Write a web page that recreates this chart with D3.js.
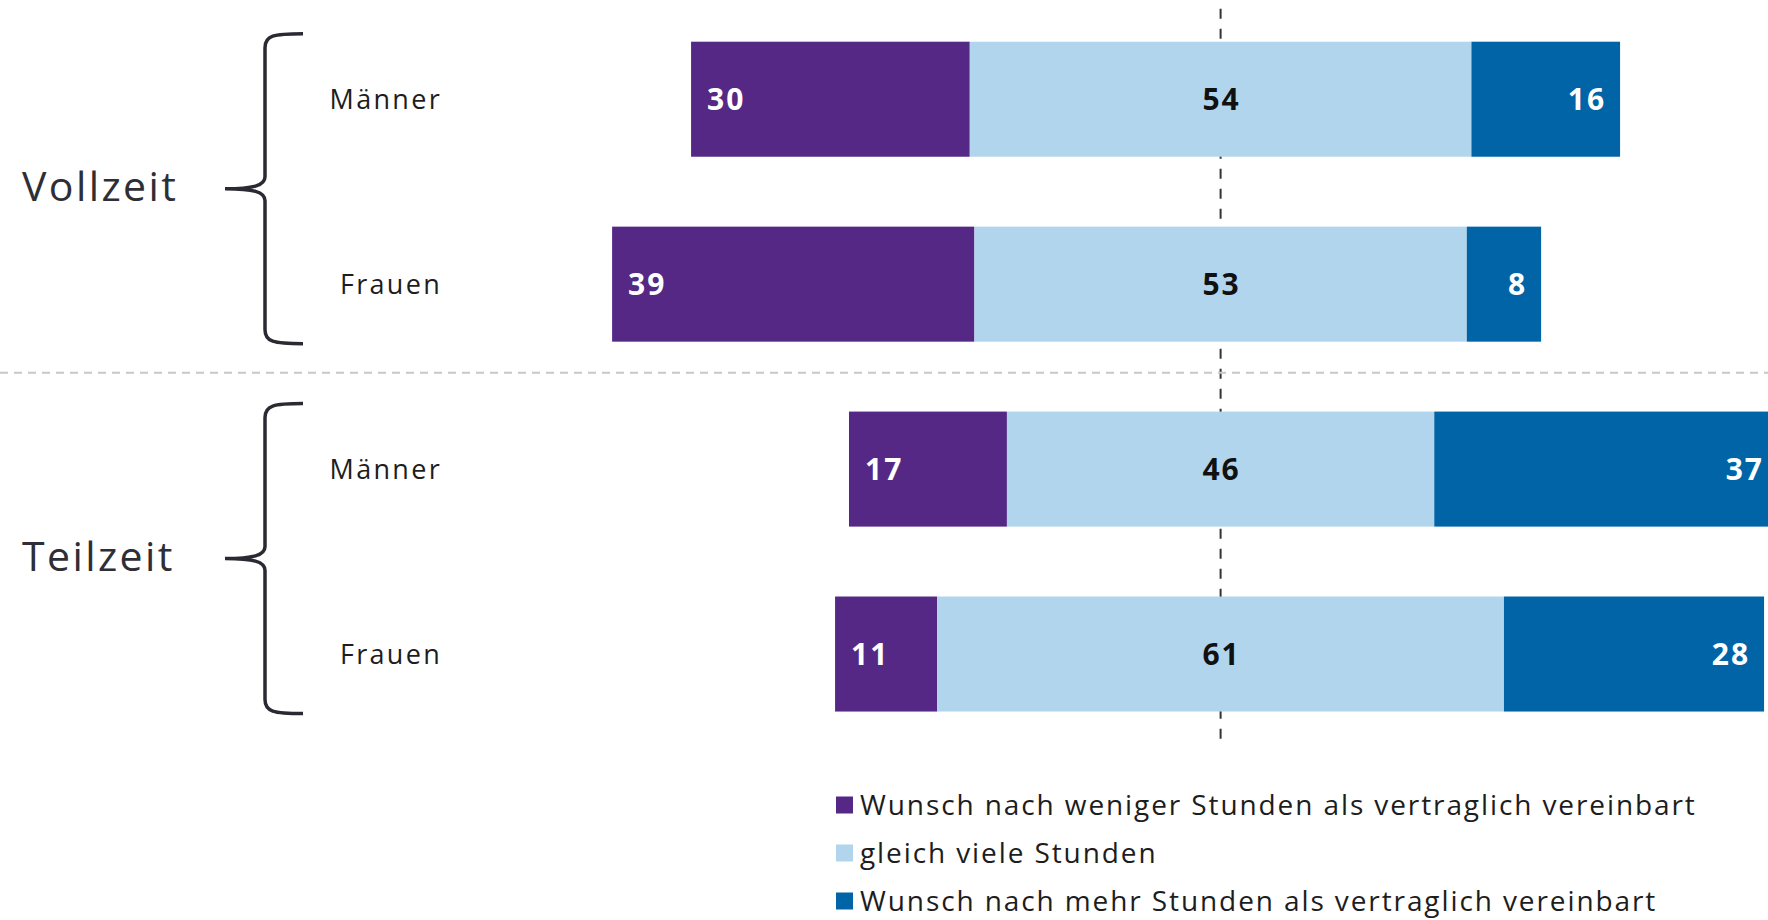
<!DOCTYPE html>
<html>
<head>
<meta charset="utf-8">
<script src="https://cdn.jsdelivr.net/npm/d3@7"></script>
<style>
  body { margin: 0; background: #fff; }
  svg { display: block; font-family: "Open Sans", sans-serif; }
</style>
</head>
<body>
<div id="chart"></div>
<script>
// chart data
var groups = ["Vollzeit", "Teilzeit"];
var rowGroup = ["Vollzeit", "Vollzeit", "Teilzeit", "Teilzeit"];
var rowLabels = ["Männer", "Frauen", "Männer", "Frauen"];
var weniger = [30, 39, 17, 11];
var gleich = [54, 53, 46, 61];
var mehr = [16, 8, 37, 28];
var seriesNames = [
    "Wunsch nach weniger Stunden als vertraglich vereinbart",
    "gleich viele Stunden",
    "Wunsch nach mehr Stunden als vertraglich vereinbart"
];

// svg size
var svgWidth = 1768;
var svgHeight = 920;
var colors = ["#552886", "#b2d5ee", "#0064a7"];

var svg = d3.select("#chart")
    .append("svg")
    .attr("width", svgWidth)
    .attr("height", svgHeight);

// x: 0 sits in the middle of the "gleich viele" segment
var center = 1220.6;
var xscale = d3.scaleLinear()
    .domain([-60, 60])
    .range([center - 557.4, center + 557.4]);

var rows = d3.range(rowLabels.length);
var yscale = d3.scaleBand()
    .domain(rows)
    .range([6.75, 746.5])
    .paddingInner(0.378)
    .paddingOuter(0.189);
var bw = yscale.bandwidth();

// build stacked segments from the arrays
var segs = [];
rows.forEach(function (i) {
    var start = -(weniger[i] + gleich[i] / 2);
    var vals = [weniger[i], gleich[i], mehr[i]];
    vals.forEach(function (v, k) {
        segs.push({ row: i, k: k, v: v, x0: start, x1: start + v });
        start += v;
    });
});

// vertical dashed centre line (behind the bars)
svg.append("line")
    .attr("x1", xscale(0)).attr("x2", xscale(0))
    .attr("y1", yscale.range()[0] + 2)
    .attr("y2", yscale.range()[1] - 4)
    .attr("stroke", "#333")
    .attr("stroke-width", 2)
    .attr("stroke-dasharray", "10,10");

// separator between the two groups
var sepY = (yscale(1) + bw + yscale(2)) / 2 - 4;
svg.append("line")
    .attr("x1", 0).attr("x2", svgWidth)
    .attr("y1", sepY).attr("y2", sepY)
    .attr("stroke", "#c8c8c8")
    .attr("stroke-width", 2)
    .attr("stroke-dasharray", "8,6");

// bars
svg.selectAll("rect.seg")
    .data(segs)
    .enter()
    .append("rect")
    .attr("class", "seg")
    .attr("x", d => xscale(d.x0))
    .attr("y", d => yscale(d.row))
    .attr("width", d => xscale(d.x1) - xscale(d.x0))
    .attr("height", bw)
    .attr("fill", d => colors[d.k]);

// value labels
svg.selectAll("text.val")
    .data(segs)
    .enter()
    .append("text")
    .attr("class", "val")
    .attr("x", function (d) {
        if (d.k == 0) return xscale(d.x0) + 16;
        if (d.k == 2) return xscale(d.x1) - 14;
        return xscale((d.x0 + d.x1) / 2) + 1;
    })
    .attr("y", d => yscale(d.row) + bw / 2)
    .attr("dy", "0.36em")
    .style("text-anchor", d => d.k == 0 ? "start" : (d.k == 2 ? "end" : "middle"))
    .style("font-size", "30px")
    .style("font-weight", "700")
    .style("letter-spacing", "2px")
    .style("fill", d => d.k == 1 ? "#111" : "#fff")
    .text(d => d.v);

// row labels
svg.selectAll("text.row")
    .data(rows)
    .enter()
    .append("text")
    .attr("class", "row")
    .attr("x", 442)
    .attr("y", d => yscale(d) + bw / 2)
    .attr("dy", "0.36em")
    .style("text-anchor", "end")
    .style("font-size", "27px")
    .style("letter-spacing", "2.3px")
    .style("fill", "#1d1d1d")
    .text(d => rowLabels[d]);

// curly braces + group labels
groups.forEach(function (g) {
    var idx = rows.filter(i => rowGroup[i] == g);
    var y0 = yscale(idx[0]) - 8;
    var y1 = yscale(idx[idx.length - 1]) + bw + 2;
    var ym = (y0 + y1) / 2;
    var xs = 265, xt = 303, xp = 225;
    var p = "M" + xt + "," + y0 +
        " C" + (xs + 8) + "," + y0 + " " + xs + "," + (y0 + 2) + " " + xs + "," + (y0 + 14) +
        " L" + xs + "," + (ym - 12) +
        " C" + xs + "," + (ym - 3) + " " + (xs - 12) + "," + ym + " " + xp + "," + ym +
        " C" + (xs - 12) + "," + ym + " " + xs + "," + (ym + 3) + " " + xs + "," + (ym + 12) +
        " L" + xs + "," + (y1 - 14) +
        " C" + xs + "," + (y1 - 2) + " " + (xs + 8) + "," + y1 + " " + xt + "," + y1;
    svg.append("path")
        .attr("d", p)
        .attr("fill", "none")
        .attr("stroke", "#2a2a33")
        .attr("stroke-width", 3.5);

    svg.append("text")
        .attr("x", 22)
        .attr("y", ym - 2)
        .attr("dy", "0.36em")
        .style("font-size", "41px")
        .style("letter-spacing", "2.4px")
        .style("fill", "#2e2e36")
        .text(g);
});

// legend
var legend = svg.selectAll("g.legend")
    .data(seriesNames)
    .enter()
    .append("g")
    .attr("class", "legend")
    .attr("transform", (d, i) => `translate(836, ${805 + i * 48})`);

legend.append("rect")
    .attr("x", 0)
    .attr("y", -8.5)
    .attr("width", 17)
    .attr("height", 17)
    .attr("fill", (d, i) => colors[i]);

legend.append("text")
    .attr("x", 24)
    .attr("y", 0)
    .attr("dy", "0.36em")
    .style("font-size", "28px")
    .style("letter-spacing", "1.9px")
    .style("fill", "#1d1d1d")
    .text(d => d);
</script>
</body>
</html>
